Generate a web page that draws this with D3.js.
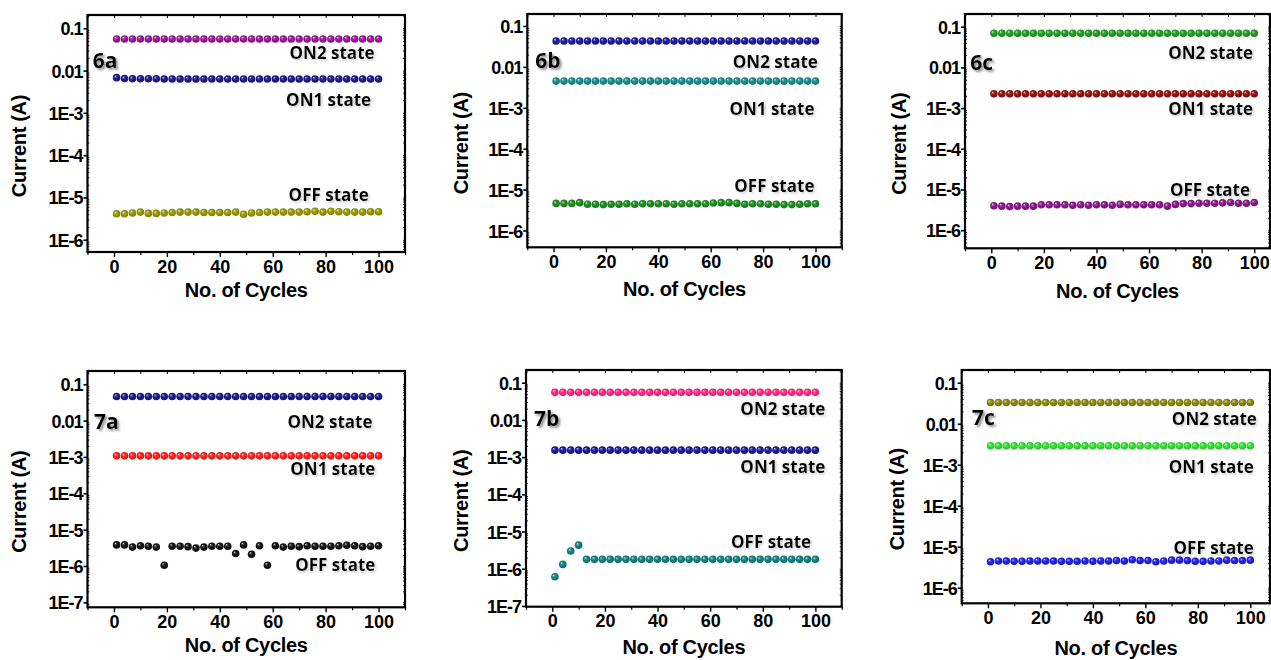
<!DOCTYPE html>
<html>
<head>
<meta charset="utf-8">
<title>Current vs. No. of Cycles</title>
<style>
  body { margin: 0; background: #fff; }
  .tick text { font-family: "Liberation Sans", Arial, sans-serif; font-weight: bold; font-size: 18px; fill: #000; }
  .axis-title { font-family: "Liberation Sans", Arial, sans-serif; font-weight: bold; font-size: 20px; letter-spacing: -0.3px; }
  .state { font-family: "Open Sans", sans-serif; font-weight: bold; font-size: 17px; }
  .tag { font-family: "Open Sans", sans-serif; font-weight: bold; font-size: 21px; }
</style>
</head>
<body>
<svg id="fig"></svg>
<script src="https://cdn.jsdelivr.net/npm/d3@7"></script>
<script>
// cycle numbers (x) shared by every series
var cycles = [1, 4, 7, 10, 13, 16, 19, 22, 25, 28, 31, 34, 37, 40, 43, 46, 49,
              52, 55, 58, 61, 64, 67, 70, 73, 76, 79, 82, 85, 88, 91, 94, 97, 100];

var xTicks = [0, 20, 40, 60, 80, 100];
var xMinor = [-10, 10, 30, 50, 70, 90, 110];

// currents in A
var on2_6a = [0.056, 0.056, 0.056, 0.056, 0.056, 0.056, 0.056, 0.056, 0.056, 0.056, 0.056, 0.056, 0.056, 0.056, 0.056, 0.056, 0.056,
              0.056, 0.056, 0.056, 0.056, 0.056, 0.056, 0.056, 0.056, 0.056, 0.056, 0.056, 0.056, 0.056, 0.056, 0.056, 0.056, 0.056];
var on1_6a = [0.0068, 0.0065, 0.0064, 0.0064, 0.0064, 0.0064, 0.0063, 0.0063, 0.0063, 0.0063, 0.0063, 0.0063, 0.0063, 0.0063, 0.0063, 0.0063, 0.0063,
              0.0063, 0.0063, 0.0063, 0.0063, 0.0063, 0.0063, 0.0063, 0.0063, 0.0063, 0.0063, 0.0063, 0.0063, 0.0063, 0.0063, 0.0063, 0.0063, 0.0063];
var off_6a = [4.1e-6, 4.1e-6, 4.3e-6, 4.5e-6, 4.2e-6, 4.2e-6, 4.3e-6, 4.4e-6, 4.5e-6, 4.5e-6, 4.5e-6, 4.4e-6, 4.4e-6, 4.4e-6, 4.4e-6, 4.5e-6, 4.0e-6,
              4.3e-6, 4.4e-6, 4.5e-6, 4.5e-6, 4.5e-6, 4.5e-6, 4.5e-6, 4.6e-6, 4.7e-6, 4.5e-6, 4.7e-6, 4.6e-6, 4.5e-6, 4.5e-6, 4.5e-6, 4.6e-6, 4.6e-6];

var on2_6b = [0.043, 0.043, 0.043, 0.043, 0.043, 0.043, 0.043, 0.043, 0.043, 0.043, 0.043, 0.043, 0.043, 0.043, 0.043, 0.043, 0.043,
              0.043, 0.043, 0.043, 0.043, 0.043, 0.043, 0.043, 0.043, 0.043, 0.043, 0.043, 0.043, 0.043, 0.043, 0.043, 0.043, 0.043];
var on1_6b = [0.0045, 0.0045, 0.0045, 0.0045, 0.0045, 0.0045, 0.0045, 0.0045, 0.0045, 0.0045, 0.0045, 0.0045, 0.0045, 0.0045, 0.0045, 0.0045, 0.0045,
              0.0045, 0.0045, 0.0045, 0.0045, 0.0045, 0.0045, 0.0045, 0.0045, 0.0045, 0.0045, 0.0045, 0.0045, 0.0045, 0.0045, 0.0045, 0.0045, 0.0045];
var off_6b = [4.6e-6, 4.6e-6, 4.6e-6, 4.8e-6, 4.4e-6, 4.4e-6, 4.3e-6, 4.4e-6, 4.4e-6, 4.5e-6, 4.4e-6, 4.5e-6, 4.5e-6, 4.5e-6, 4.5e-6, 4.4e-6, 4.5e-6,
              4.5e-6, 4.5e-6, 4.5e-6, 4.7e-6, 4.8e-6, 4.8e-6, 4.6e-6, 4.4e-6, 4.5e-6, 4.5e-6, 4.4e-6, 4.4e-6, 4.3e-6, 4.3e-6, 4.4e-6, 4.5e-6, 4.5e-6];

var on2_6c = [0.069, 0.069, 0.069, 0.069, 0.069, 0.069, 0.069, 0.069, 0.069, 0.069, 0.069, 0.069, 0.069, 0.069, 0.069, 0.069, 0.069,
              0.069, 0.069, 0.069, 0.069, 0.069, 0.069, 0.069, 0.069, 0.069, 0.069, 0.069, 0.069, 0.069, 0.069, 0.069, 0.069, 0.069];
var on1_6c = [0.00225, 0.00225, 0.00225, 0.00225, 0.00225, 0.00225, 0.00225, 0.00225, 0.00225, 0.00225, 0.00225, 0.00225, 0.00225, 0.00225, 0.00225, 0.00225, 0.00225,
              0.00225, 0.00225, 0.00225, 0.00225, 0.00225, 0.00225, 0.00225, 0.00225, 0.00225, 0.00225, 0.00225, 0.00225, 0.00225, 0.00225, 0.00225, 0.00225, 0.00225];
var off_6c = [4.0e-6, 3.9e-6, 3.8e-6, 3.9e-6, 3.9e-6, 3.9e-6, 4.2e-6, 4.2e-6, 4.2e-6, 4.2e-6, 4.1e-6, 4.2e-6, 4.1e-6, 4.2e-6, 4.2e-6, 4.1e-6, 4.3e-6,
              4.2e-6, 4.2e-6, 4.2e-6, 4.2e-6, 4.2e-6, 3.9e-6, 4.3e-6, 4.5e-6, 4.5e-6, 4.6e-6, 4.6e-6, 4.6e-6, 4.7e-6, 4.8e-6, 4.6e-6, 4.6e-6, 4.8e-6];

var on2_7a = [0.046, 0.046, 0.046, 0.046, 0.046, 0.046, 0.046, 0.046, 0.046, 0.046, 0.046, 0.046, 0.046, 0.046, 0.046, 0.046, 0.046,
              0.046, 0.046, 0.046, 0.046, 0.046, 0.046, 0.046, 0.046, 0.046, 0.046, 0.046, 0.046, 0.046, 0.046, 0.046, 0.046, 0.046];
var on1_7a = [0.00107, 0.00107, 0.00107, 0.00107, 0.00107, 0.00107, 0.00107, 0.00107, 0.00107, 0.00107, 0.00107, 0.00107, 0.00107, 0.00107, 0.00107, 0.00107, 0.00107,
              0.00107, 0.00107, 0.00107, 0.00107, 0.00107, 0.00107, 0.00107, 0.00107, 0.00107, 0.00107, 0.00107, 0.00107, 0.00107, 0.00107, 0.00107, 0.00107, 0.00107];
var off_7a = [3.8e-6, 3.8e-6, 3.3e-6, 3.6e-6, 3.5e-6, 3.3e-6, 1.05e-6, 3.5e-6, 3.5e-6, 3.4e-6, 3.1e-6, 3.3e-6, 3.5e-6, 3.5e-6, 3.5e-6, 2.2e-6, 3.8e-6,
              2.1e-6, 3.6e-6, 1.05e-6, 3.6e-6, 3.3e-6, 3.5e-6, 3.4e-6, 3.6e-6, 3.5e-6, 3.5e-6, 3.5e-6, 3.6e-6, 3.7e-6, 3.6e-6, 3.4e-6, 3.5e-6, 3.6e-6];

var on2_7b = [0.055, 0.055, 0.055, 0.055, 0.055, 0.055, 0.055, 0.055, 0.055, 0.055, 0.055, 0.055, 0.055, 0.055, 0.055, 0.055, 0.055,
              0.055, 0.055, 0.055, 0.055, 0.055, 0.055, 0.055, 0.055, 0.055, 0.055, 0.055, 0.055, 0.055, 0.055, 0.055, 0.055, 0.055];
var on1_7b = [0.00154, 0.00154, 0.00154, 0.00154, 0.00154, 0.00154, 0.00154, 0.00154, 0.00154, 0.00154, 0.00154, 0.00154, 0.00154, 0.00154, 0.00154, 0.00154, 0.00154,
              0.00154, 0.00154, 0.00154, 0.00154, 0.00154, 0.00154, 0.00154, 0.00154, 0.00154, 0.00154, 0.00154, 0.00154, 0.00154, 0.00154, 0.00154, 0.00154, 0.00154];
var off_7b = [6.1e-7, 1.31e-6, 3.0e-6, 4.3e-6, 1.79e-6, 1.79e-6, 1.79e-6, 1.79e-6, 1.79e-6, 1.79e-6, 1.79e-6, 1.79e-6, 1.79e-6, 1.79e-6, 1.79e-6, 1.79e-6, 1.79e-6,
              1.79e-6, 1.79e-6, 1.79e-6, 1.79e-6, 1.79e-6, 1.79e-6, 1.79e-6, 1.79e-6, 1.79e-6, 1.79e-6, 1.79e-6, 1.79e-6, 1.79e-6, 1.79e-6, 1.79e-6, 1.79e-6, 1.79e-6];

var on2_7c = [0.033, 0.033, 0.033, 0.033, 0.033, 0.033, 0.033, 0.033, 0.033, 0.033, 0.033, 0.033, 0.033, 0.033, 0.033, 0.033, 0.033,
              0.033, 0.033, 0.033, 0.033, 0.033, 0.033, 0.033, 0.033, 0.033, 0.033, 0.033, 0.033, 0.033, 0.033, 0.033, 0.033, 0.033];
var on1_7c = [0.0029, 0.0029, 0.0029, 0.0029, 0.0029, 0.0029, 0.0029, 0.0029, 0.0029, 0.0029, 0.0029, 0.0029, 0.0029, 0.0029, 0.0029, 0.0029, 0.0029,
              0.0029, 0.0029, 0.0029, 0.0029, 0.0029, 0.0029, 0.0029, 0.0029, 0.0029, 0.0029, 0.0029, 0.0029, 0.0029, 0.0029, 0.0029, 0.0029, 0.0029];
var off_7c = [4.3e-6, 4.5e-6, 4.5e-6, 4.4e-6, 4.4e-6, 4.5e-6, 4.5e-6, 4.5e-6, 4.5e-6, 4.4e-6, 4.4e-6, 4.4e-6, 4.5e-6, 4.4e-6, 4.5e-6, 4.5e-6, 4.6e-6,
              4.5e-6, 4.8e-6, 4.6e-6, 4.6e-6, 4.3e-6, 4.5e-6, 4.7e-6, 4.7e-6, 4.6e-6, 4.4e-6, 4.4e-6, 4.5e-6, 4.5e-6, 4.7e-6, 4.6e-6, 4.6e-6, 4.7e-6];

var stateNames = ['ON2 state', 'ON1 state', 'OFF state'];

// layout of the six panels: frame box in px, axis extents, label anchors as [cycle, log10(A)]
var panels = [
  { tag: '6a', box: [87.5, 15, 405, 252], xMax: 110, yExp: [-6.29, -0.686], yTicks: [-1, -2, -3, -4, -5, -6],
    series: [on2_6a, on1_6a, off_6a], colors: ['#9b1b9b', '#1c1c8e', '#9c9c06'],
    labels: [[98.5, -1.726], [97.2, -2.837], [96.3, -5.083]], tagAt: [-8, -1.94], yTitleX: -68, xTitleDy: 45 },
  { tag: '6b', box: [527.3, 14, 841.7, 247.3], xMax: 110, yExp: [-6.41, -0.707], yTicks: [-1, -2, -3, -4, -5, -6],
    series: [on2_6b, on1_6b, off_6b], colors: ['#1c1c9e', '#1a8f8f', '#1f911f'],
    labels: [[100.9, -2.015], [99.6, -3.176], [99.6, -5.07]], tagAt: [-7, -2.03], yTitleX: -65.6, xTitleDy: 49 },
  { tag: '6c', box: [965, 14, 1270, 248.3], xMax: 106, yExp: [-6.445, -0.688], yTicks: [-1, -2, -3, -4, -5, -6],
    series: [on2_6c, on1_6c, off_6c], colors: ['#22a022', '#9c1010', '#8e188e'],
    labels: [[99.6, -1.794], [99.6, -3.17], [98.4, -5.16]], tagAt: [-8, -2.06], yTitleX: -66, xTitleDy: 50 },
  { tag: '7a', box: [87.5, 371, 405, 607.3], xMax: 110, yExp: [-7.137, -0.636], yTicks: [-1, -2, -3, -4, -5, -6, -7],
    series: [on2_7a, on1_7a, off_7a], colors: ['#1c1c8e', '#ff2222', '#151515'],
    labels: [[97.7, -2.21], [98.8, -3.485], [98.8, -6.14]], tagAt: [-7.5, -2.24], yTitleX: -68, xTitleDy: 45 },
  { tag: '7b', box: [526, 370, 841.7, 606.7], xMax: 110, yExp: [-7.02, -0.659], yTicks: [-1, -2, -3, -4, -5, -6, -7],
    series: [on2_7b, on1_7b, off_7b], colors: ['#ff2a88', '#1c1c9e', '#128484'],
    labels: [[103.8, -1.868], [103.8, -3.43], [98.4, -5.43]], tagAt: [-7, -2.16], yTitleX: -65, xTitleDy: 47 },
  { tag: '7c', box: [961.7, 370, 1270, 603.3], xMax: 107.5, yExp: [-6.38, -0.69], yTicks: [-1, -2, -3, -4, -5, -6],
    series: [on2_7c, on1_7c, off_7c], colors: ['#8c8c12', '#33e633', '#2222e8'],
    labels: [[102.5, -2.03], [101.3, -3.20], [101.3, -5.18]], tagAt: [-6.1, -2.03], yTitleX: -64, xTitleDy: 52 }
];

var width = 1271, height = 660;

var svg = d3.select('#fig')
  .attr('width', width)
  .attr('height', height)
  .style('display', 'block');

svg.append('rect').attr('width', width).attr('height', height).attr('fill', '#fff');

var defs = svg.append('defs');

// drop shadows for the tags and the state labels
var tagShadow = defs.append('filter').attr('id', 'tagShadow')
  .attr('x', '-20%').attr('y', '-20%').attr('width', '160%').attr('height', '160%');
tagShadow.append('feDropShadow').attr('dx', 2).attr('dy', 2).attr('stdDeviation', 1.2)
  .attr('flood-color', '#777').attr('flood-opacity', 0.8);
var stateShadow = defs.append('filter').attr('id', 'stateShadow')
  .attr('x', '-10%').attr('y', '-20%').attr('width', '130%').attr('height', '160%');
stateShadow.append('feDropShadow').attr('dx', 1.5).attr('dy', 1.5).attr('stdDeviation', 1)
  .attr('flood-color', '#999').attr('flood-opacity', 0.5);

// shaded sphere look for the markers
function sphere(color) {
  var id = 'ball' + color.slice(1);
  if (!defs.select('#' + id).empty()) return 'url(#' + id + ')';
  var g = defs.append('radialGradient').attr('id', id)
    .attr('cx', '50%').attr('cy', '50%').attr('r', '55%')
    .attr('fx', '32%').attr('fy', '30%');
  g.append('stop').attr('offset', '0%').attr('stop-color', '#fff').attr('stop-opacity', 0.9);
  g.append('stop').attr('offset', '18%').attr('stop-color', d3.interpolateRgb(color, '#fff')(0.3));
  g.append('stop').attr('offset', '45%').attr('stop-color', color);
  g.append('stop').attr('offset', '100%').attr('stop-color', d3.color(color).darker(0.7));
  return 'url(#' + id + ')';
}

function fmtY(v) {
  var e = Math.round(Math.log10(v));
  if (e >= -2) return e === -1 ? '0.1' : '0.01';
  return '1E' + e;
}

panels.forEach(function(p) {
  var left = p.box[0], top = p.box[1], right = p.box[2], bottom = p.box[3];

  var x = d3.scaleLinear().domain([-10, p.xMax]).range([left, right]);
  var y = d3.scaleLog().domain([Math.pow(10, p.yExp[0]), Math.pow(10, p.yExp[1])]).range([bottom, top]);

  var g = svg.append('g').attr('class', 'panel');

  // bottom axis: major ticks with labels, minor ticks in between
  g.append('g').attr('transform', 'translate(0,' + bottom + ')')
    .call(d3.axisBottom(x).tickValues(xTicks).tickSize(5).tickSizeOuter(0).tickPadding(3))
    .call(function(a) {
      a.select('.domain').remove();
      a.selectAll('line').attr('stroke-width', 1.4);
    });
  g.append('g').attr('transform', 'translate(0,' + bottom + ')')
    .call(d3.axisBottom(x).tickValues(xMinor.filter(function(v) { return v <= p.xMax; }))
      .tickSize(3).tickSizeOuter(0).tickFormat(''))
    .call(function(a) { a.select('.domain').remove(); a.selectAll('line').attr('stroke-width', 1.2); });

  // top axis mirror ticks, pointing in
  g.append('g').attr('transform', 'translate(0,' + top + ')')
    .call(d3.axisTop(x).tickValues(xTicks.concat(xMinor).filter(function(v) { return v <= p.xMax; }))
      .tickSize(-3).tickSizeOuter(0).tickFormat(''))
    .call(function(a) { a.select('.domain').remove(); a.selectAll('line').attr('stroke-width', 1); });

  // left axis: decades labelled, minor log ticks inside
  var decades = p.yTicks.map(function(e) { return Math.pow(10, e); });
  g.append('g').attr('transform', 'translate(' + left + ',0)')
    .call(d3.axisLeft(y).tickValues(decades).tickFormat(fmtY).tickSize(4).tickSizeOuter(0).tickPadding(1))
    .call(function(a) {
      a.select('.domain').remove();
      a.selectAll('line').attr('stroke-width', 1.6);
      a.selectAll('text').attr('dy', '0.36em').style('letter-spacing', '-1px');
    });
  var minor = y.ticks().filter(function(v) {
    return Math.abs(Math.log10(v) - Math.round(Math.log10(v))) > 1e-6;
  });
  g.append('g').attr('transform', 'translate(' + left + ',0)')
    .call(d3.axisLeft(y).tickValues(minor).tickSize(-2).tickSizeOuter(0).tickFormat(''))
    .call(function(a) { a.select('.domain').remove(); a.selectAll('line').attr('stroke-width', 0.8); });
  g.append('g').attr('transform', 'translate(' + right + ',0)')
    .call(d3.axisRight(y).tickValues(decades.concat(minor)).tickSize(-2).tickSizeOuter(0).tickFormat(''))
    .call(function(a) { a.select('.domain').remove(); a.selectAll('line').attr('stroke-width', 0.8); });

  // frame
  g.append('rect')
    .attr('x', left).attr('y', top)
    .attr('width', right - left).attr('height', bottom - top)
    .attr('fill', 'none').attr('stroke', '#000').attr('stroke-width', 2.2);

  // markers
  p.series.forEach(function(vals, si) {
    var fill = sphere(p.colors[si]);
    g.append('g').selectAll('circle')
      .data(vals)
      .enter()
      .append('circle')
      .attr('cx', function(d, i) { return x(cycles[i]); })
      .attr('cy', function(d) { return y(d); })
      .attr('r', 3.8)
      .attr('fill', fill);
  });

  // state labels
  p.labels.forEach(function(l, i) {
    g.append('text').attr('class', 'state')
      .attr('x', x(l[0])).attr('y', y(Math.pow(10, l[1])))
      .attr('text-anchor', 'end')
      .attr('filter', 'url(#stateShadow)')
      .text(stateNames[i]);
  });

  // panel tag
  g.append('text').attr('class', 'tag')
    .attr('x', x(p.tagAt[0])).attr('y', y(Math.pow(10, p.tagAt[1])))
    .attr('filter', 'url(#tagShadow)')
    .text(p.tag);

  // axis titles
  g.append('text').attr('class', 'axis-title')
    .attr('text-anchor', 'middle')
    .attr('x', (left + Math.min(right, left + 318)) / 2)
    .attr('y', bottom + p.xTitleDy)
    .text('No. of Cycles');
  g.append('text').attr('class', 'axis-title')
    .attr('text-anchor', 'middle')
    .attr('transform', 'translate(' + (left + p.yTitleX + 6.5) + ',' + ((top + bottom) / 2 + 12.5) + ') rotate(-90)')
    .text('Current (A)');
});
</script>
</body>
</html>
